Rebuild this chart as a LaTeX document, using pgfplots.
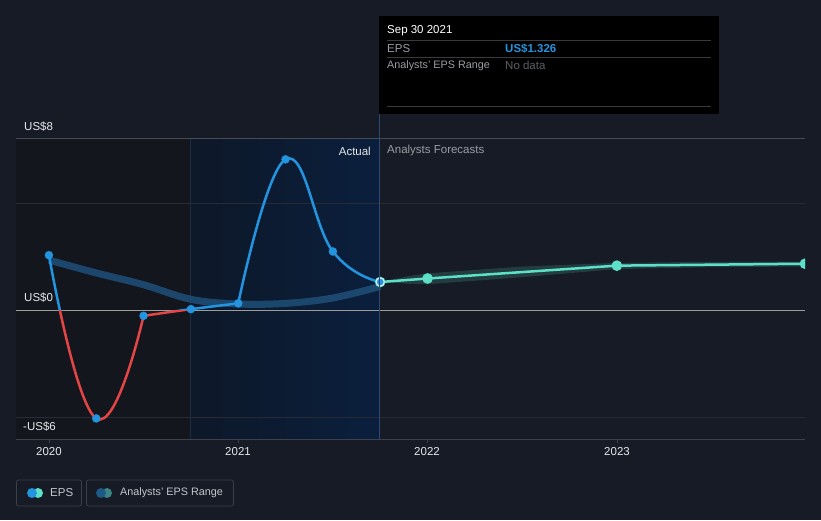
\documentclass[border=0pt]{standalone}
\usepackage{fontspec}
\setmainfont{Liberation Sans}
\usepackage{pgfplots}
\pgfplotsset{compat=1.18}
\definecolor{bg}{HTML}{161B25}
\definecolor{darkleft}{HTML}{13161D}
\definecolor{navyL}{HTML}{0D1828}
\definecolor{navyR}{HTML}{0B1F3D}
\definecolor{gridtop}{HTML}{474B55}
\definecolor{gridmid}{HTML}{262B36}
\definecolor{zeroline}{HTML}{9C9C9C}
\definecolor{axisc}{HTML}{3C414B}
\definecolor{epsblue}{HTML}{2394DF}
\definecolor{epsred}{HTML}{E54545}
\definecolor{fteal}{HTML}{5EE0C8}
\definecolor{bandc}{HTML}{1E4C74}
\definecolor{txt}{HTML}{E6E8EB}
\definecolor{txtgray}{HTML}{9A9DA3}
\definecolor{nodata}{HTML}{5C5F64}
\definecolor{ttline}{HTML}{3A3A3A}
\definecolor{legborder}{HTML}{3A3F4A}
\definecolor{legtxt}{HTML}{C3C6CC}
\definecolor{vfaint}{HTML}{1B2C44}
\definecolor{vline}{HTML}{2A4A70}
\definecolor{legband}{HTML}{1F5A87}
\definecolor{legteal}{HTML}{3B8585}
\begin{document}
\begin{tikzpicture}
\fill[bg] (0,0) rectangle (821pt,520pt);
\begin{scope}[x=1pt,y=-1pt,yshift=520pt]
  \fill[darkleft] (16,139) rectangle (190,439);
  \shade[left color=navyL, right color=navyR] (190,139) rectangle (379,439);
  \draw[gridtop, line width=1pt] (16,139) -- (805,139);
  \draw[gridmid, line width=1pt] (16,203.3) -- (805,203.3);
  \draw[gridmid, line width=1pt] (16,417.6) -- (805,417.6);
  \draw[axisc, line width=1pt] (16,439) -- (805,439);
  \foreach \x in {49,238,427,617} \draw[axisc, line width=1pt] (\x,439) -- (\x,443);
  \draw[vfaint, line width=0.6pt] (190,139) -- (190,439);
  \draw[zeroline, line width=1.5pt] (16,310.7) -- (805,310.7);
\end{scope}
\begin{axis}[at={(16pt,81pt)}, anchor=south west, scale only axis,
  width=789pt, height=300pt,
  xmin=2019.826, xmax=2023.994, ymin=-6, ymax=8,
  hide axis, clip marker paths=true]
  % past consensus band
  \addplot[smooth, tension=0.6, bandc, line width=7pt, opacity=0.9, line cap=butt] coordinates {
    (2020.0,2.35) (2020.25,1.75) (2020.5,1.2) (2020.75,0.52) (2021.0,0.30) (2021.25,0.33) (2021.5,0.58) (2021.75,1.12)};
  % forecast range
  \addplot[draw=none, fill=fteal, fill opacity=0.17] coordinates {
    (2021.75,1.33) (2021.9,1.60) (2022.0,1.73) (2022.5,2.05) (2023.0,2.22) (2023.5,2.27) (2023.994,2.28)
    (2023.994,2.05) (2023.5,2.02) (2023.0,1.93) (2022.5,1.55) (2022.0,1.22) (2021.9,1.24) (2021.75,1.33)} -- cycle;
  % EPS line, positive part blue, negative part red
  \begin{scope}
    \clip (axis cs:2019.83,0) rectangle (axis cs:2023.99,7.99);
    \addplot[smooth, tension=0.8, epsblue, line width=2.5pt] coordinates {
      (2020.0,2.58) (2020.25,-5.04) (2020.5,-0.25)};
    \addplot[smooth, tension=0.5, epsblue, line width=2.5pt] coordinates {
      (2020.5,-0.25) (2020.75,0.06) (2021.0,0.33)};
    \addplot[smooth, tension=0.75, epsblue, line width=2.5pt] coordinates {
      (2021.0,0.33) (2021.25,7.05) (2021.5,2.75) (2021.75,1.326)};
  \end{scope}
  \begin{scope}
    \clip (axis cs:2019.83,0) rectangle (axis cs:2023.99,-5.99);
    \addplot[smooth, tension=0.8, epsred, line width=2.5pt] coordinates {
      (2020.0,2.58) (2020.25,-5.04) (2020.5,-0.25)};
    \addplot[smooth, tension=0.5, epsred, line width=2.5pt] coordinates {
      (2020.5,-0.25) (2020.75,0.06) (2021.0,0.33)};
  \end{scope}
  \addplot[only marks, mark=*, mark size=4pt, epsblue] coordinates {
    (2020.0,2.58) (2020.25,-5.04) (2020.5,-0.25) (2020.75,0.06) (2021.0,0.33) (2021.25,7.05) (2021.5,2.75)};
  % forecast line
  \addplot[fteal, line width=2.5pt, mark=*, mark size=4pt] coordinates {
    (2021.75,1.326) (2022.0,1.49) (2023.0,2.09) (2023.994,2.18)};
  \addplot[only marks, mark=*, mark size=4pt, epsblue, mark options={draw=white, line width=0.8pt}] coordinates {(2021.75,1.326)};
\end{axis}
\begin{scope}[x=1pt,y=-1pt,yshift=520pt, font=\fontsize{11.5}{13}\selectfont, every node/.style={inner sep=0pt}]
  \draw[vline, line width=0.8pt] (379,114) -- (379,439);
  \node[anchor=west, txt] at (24,127) {US\$8};
  \node[anchor=west, txt] at (24,298) {US\$0};
  \node[anchor=west, txt] at (23,427) {-US\$6};
  \foreach \x/\l in {49/2020,238/2021,427/2022,617/2023}
    \node[txt] at (\x,452) {\l};
  \node[anchor=east, txt] at (371,151) {Actual};
  \node[anchor=west, txtgray] at (387,151) {Analysts Forecasts};
  % tooltip
  \fill[black] (379,16) rectangle (719,114);
  \node[anchor=west, white] at (387,31) {Sep 30 2021};
  \draw[ttline, line width=0.8pt] (387,40.5) -- (711,40.5);
  \node[anchor=west, txtgray] at (387,48.5) {EPS};
  \node[anchor=west, epsblue] at (505,48.5) {\bfseries US\$1.326};
  \draw[ttline, line width=0.8pt] (387,57) -- (711,57);
  \node[anchor=west, txtgray, font=\fontsize{10.8}{13}\selectfont] at (387,65.5) {Analysts' EPS Range};
  \node[anchor=west, nodata] at (505,65.5) {No data};
  \draw[ttline, line width=0.8pt] (387,106) -- (711,106);
  % legend
  \draw[legborder, rounded corners=2pt, line width=0.8pt] (16.5,480) rectangle (81.5,506);
  \fill[fteal] (38,493) circle (5);
  \fill[epsblue] (32,493) circle (5);
  \node[anchor=west, legtxt] at (50,493) {EPS};
  \draw[legborder, rounded corners=2pt, line width=0.8pt] (86.5,480) rectangle (233.5,506);
  \fill[legteal] (107,493) circle (5);
  \fill[legband] (101,493) circle (5);
  \node[anchor=west, legtxt, font=\fontsize{10.8}{13}\selectfont] at (120,493) {Analysts' EPS Range};
\end{scope}
\end{tikzpicture}
\end{document}
